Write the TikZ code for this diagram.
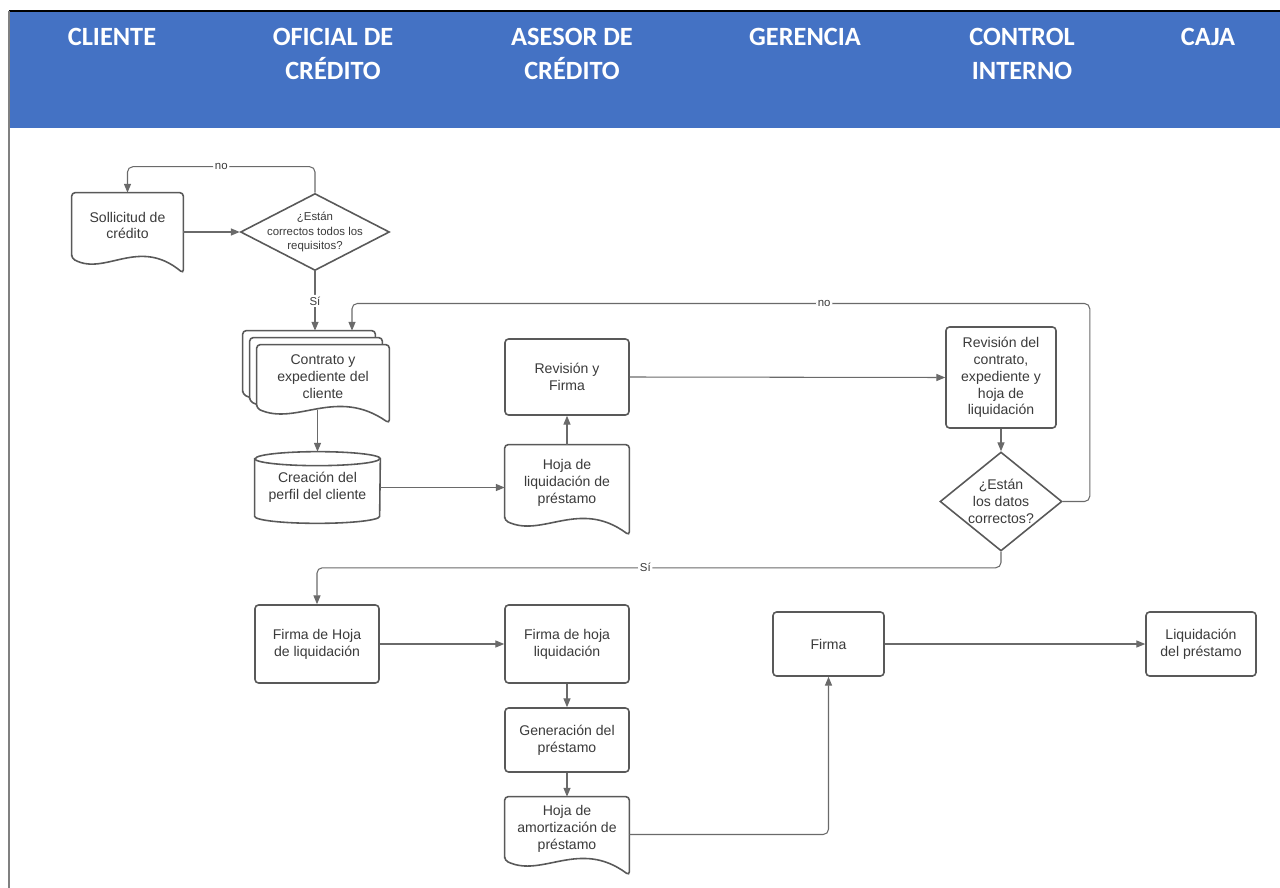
\documentclass[tikz,border=0pt]{standalone}
\usepackage{fontspec}
\setmainfont{Liberation Sans}
\newfontfamily\hdrfont{Carlito}
\usepackage{tikz}
\usetikzlibrary{arrows.meta,shapes,calc,backgrounds}
\definecolor{laneblue}{HTML}{4472C4}
\definecolor{boxgray}{HTML}{595959}
\definecolor{linegray}{HTML}{6A6A6A}
\definecolor{txtgray}{HTML}{3B3B3B}
\tikzset{
  procbox/.style={draw=boxgray, line width=0.9pt, rounded corners=2pt, fill=white, text=txtgray, align=center, font=\fontsize{8}{9.6}\selectfont, inner sep=2pt},
  docnode/.style={text=txtgray, align=center, font=\fontsize{8}{9.6}\selectfont, inner sep=2pt},
  docline/.style={draw=boxgray, line width=0.9pt, fill=white, rounded corners=2pt},
  decision/.style={diamond, draw=boxgray, line width=0.9pt, fill=white, inner sep=0pt},
  dtext/.style={text=txtgray, align=center, inner sep=0pt},
  flow/.style={draw=linegray, line width=0.6pt, rounded corners=3pt, -{Triangle[length=5pt,width=4pt]}},
  lbl/.style={fill=white, inner sep=1pt, text=txtgray, font=\fontsize{6.5}{7}\selectfont},
  lanehead/.style={text=white, align=center, anchor=north, font=\hdrfont\bfseries\fontsize{15}{19.3}\selectfont}
}
\newcommand{\docoutline}[1]{%
  \draw[docline] (#1.south west) -- (#1.north west) -- (#1.north east) -- ($(#1.south east)+(0,15)$)
    .. controls ($(#1.south west)!0.6!(#1.south east)+(0,-22)$) and ($(#1.south west)!0.3!(#1.south east)+(0,18)$) .. (#1.south west) -- cycle;}
\newcommand{\cyloutline}[1]{%
  \draw[docline, sharp corners] ($(#1.north west)+(0,7)$) -- ($(#1.south west)+(0,-7)$)
    arc[start angle=180, end angle=360, x radius=1.25cm, y radius=0.14cm] -- ($(#1.north east)+(0,7)$)
    arc[start angle=0, end angle=180, x radius=1.25cm, y radius=0.14cm] -- cycle;
  \draw[docline, fill=none, sharp corners] ($(#1.north west)+(0,7)$) arc[start angle=180, end angle=360, x radius=1.25cm, y radius=0.14cm];}

\begin{document}
\begin{tikzpicture}[x=0.02cm, y=-0.02cm]
  \useasboundingbox (0,0) rectangle (1280,888);
  \fill[laneblue] (9,11) rectangle (1280,128);
  \draw[black, line width=1pt] (9,11) -- (1280,11);
  \draw[gray, line width=0.6pt] (9,11) -- (9,888);

  \node[lanehead] (hCliente) at (112,22) {CLIENTE};
  \node[lanehead] (hOficial) at (333,22) {OFICIAL DE\\CRÉDITO};
  \node[lanehead] (hAsesor) at (572,22) {ASESOR DE\\CRÉDITO};
  \node[lanehead] (hGerencia) at (805,22) {GERENCIA};
  \node[lanehead] (hControl) at (1022,22) {CONTROL\\INTERNO};
  \node[lanehead] (hCaja) at (1208,22) {CAJA};

  \node[docnode, minimum width=2.22cm, minimum height=1.3cm] (sol) at (127.5,225.5) {Sollicitud de\\crédito};
  \node[decision, minimum width=2.98cm, minimum height=1.54cm,
    label={[dtext, font=\fontsize{6.5}{8}\selectfont]center:{¿Están\\correctos todos los\\requisitos?}}] (req) at (315,232) {};
  \node[docnode, minimum width=2.64cm, minimum height=1.26cm] (contB) at (309,362.5) {};
  \node[docnode, minimum width=2.64cm, minimum height=1.26cm] (contM) at (316,369.5) {};
  \node[docnode, minimum width=2.64cm, minimum height=1.26cm] (contF) at (323,376.5) {Contrato y\\expediente del\\cliente};
  \node[docnode, minimum width=2.5cm, minimum height=1.42cm] (cyl) at (317.5,487.5) {Creación del\\perfil del cliente};
  \node[docnode, minimum width=2.48cm, minimum height=1.5cm] (hojaLiq) at (567,482.5) {Hoja de\\liquidación de\\préstamo};
  \node[procbox, minimum width=2.48cm, minimum height=1.52cm] (revF) at (567,377) {Revisión y\\Firma};
  \node[procbox, minimum width=2.2cm, minimum height=2.02cm] (revC) at (1001,377.5) {Revisión del\\contrato,\\expediente y\\hoja de\\liquidación};
  \node[decision, minimum width=2.44cm, minimum height=1.98cm,
    label={[dtext, font=\fontsize{8}{9.6}\selectfont]center:{¿Están\\los datos\\correctos?}}] (datos) at (1001,501.5) {};
  \node[procbox, minimum width=2.48cm, minimum height=1.56cm] (firmaHoja) at (317,644) {Firma de Hoja\\de liquidación};
  \node[procbox, minimum width=2.48cm, minimum height=1.56cm] (firmaLiq) at (567,644) {Firma de hoja\\liquidación};
  \node[procbox, minimum width=2.48cm, minimum height=1.28cm] (genPres) at (567,740) {Generación del\\préstamo};
  \node[docnode, minimum width=2.48cm, minimum height=1.26cm] (hojaAm) at (567,828.5) {Hoja de\\amortización de\\préstamo};
  \node[procbox, minimum width=2.22cm, minimum height=1.28cm] (firmaG) at (828.5,644) {Firma};
  \node[procbox, minimum width=2.2cm, minimum height=1.28cm] (liqPres) at (1201,644) {Liquidación\\del préstamo};

  \begin{scope}[on background layer]
    \docoutline{sol}
    \docoutline{contB}
    \docoutline{contM}
    \docoutline{contF}
    \docoutline{hojaLiq}
    \docoutline{hojaAm}
    \cyloutline{cyl}
  \end{scope}

  \draw[flow] (sol.east |- req.west) -- (req.west);
  \draw[flow] (req.north) -- ++(0,-26) -| node[lbl, pos=0.25] {no} (sol.north);
  \draw[flow] (req.south) -- node[lbl] {Sí} (req.south |- contB.north);
  \draw[flow] (datos.east) -| ($(datos.east)+(27,-198)$) -| node[lbl, pos=0.18] {no} ($(contB.north)+(43,0)$);
  \draw[flow] ($(cyl.north |- contF.south)+(0,2)$) -- (cyl.north);
  \draw[flow] (cyl.east) -- (cyl.east -| hojaLiq.west);
  \draw[flow] (hojaLiq.north) -- (revF.south);
  \draw[flow] (revF.east) -- (revC.west);
  \draw[flow] (revC.south) -- (datos.north);
  \draw[flow] (datos.south) -- ++(0,16) -| node[lbl, pos=0.26] {Sí} (firmaHoja.north);
  \draw[flow] (firmaHoja.east) -- (firmaLiq.west);
  \draw[flow] (firmaLiq.south) -- (genPres.north);
  \draw[flow] (genPres.south) -- (hojaAm.north);
  \draw[flow] ($(hojaAm.east)+(0,6)$) -| (firmaG.south);
  \draw[flow] (firmaG.east) -- (liqPres.west);
\end{tikzpicture}
\end{document}
